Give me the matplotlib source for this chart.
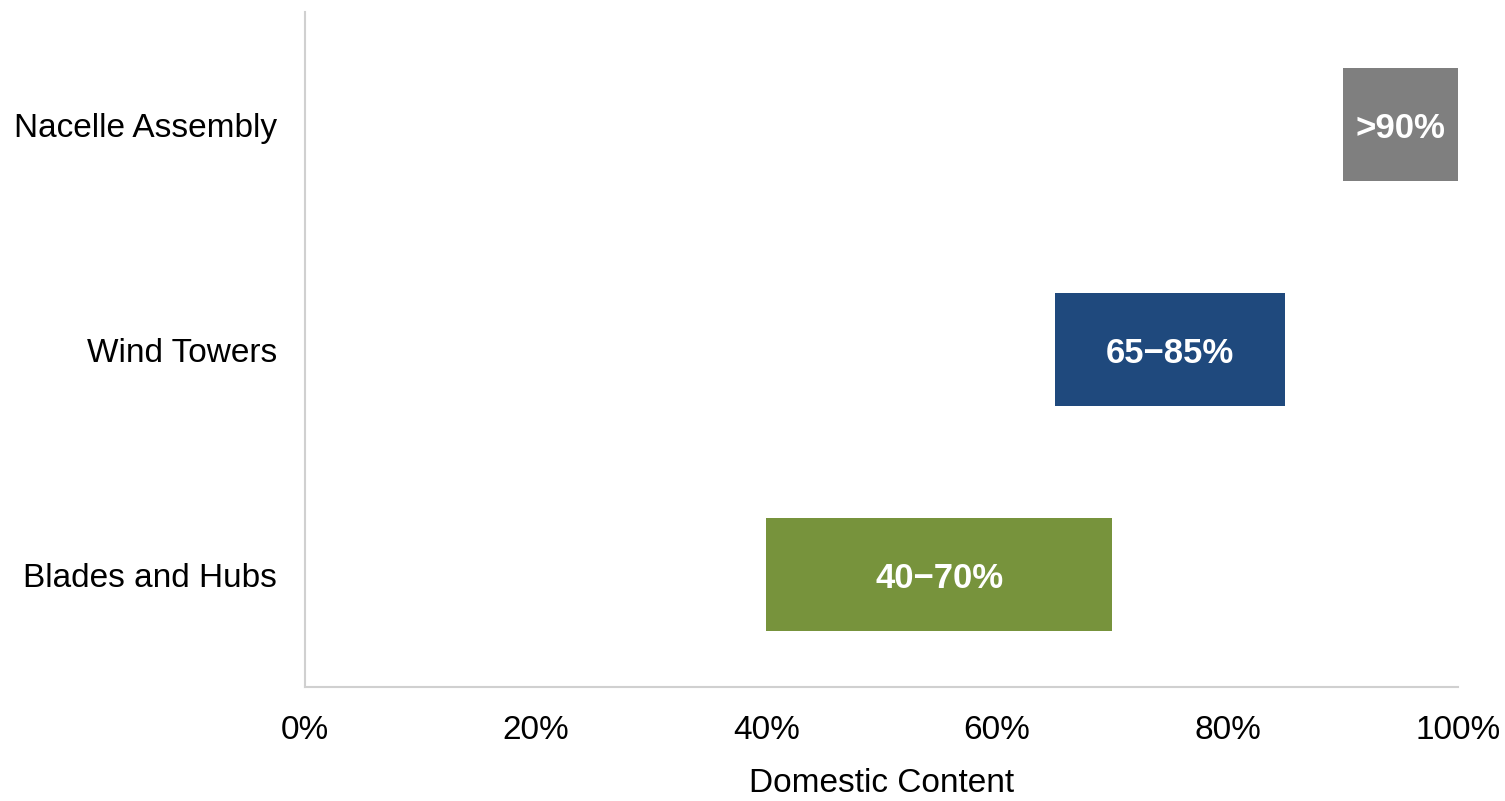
import matplotlib
matplotlib.use('Agg')
from matplotlib import pyplot as plt
from matplotlib.ticker import FuncFormatter

plt.rcParams['font.family'] = ['Liberation Sans', 'DejaVu Sans']

# data
categories = ['Blades and Hubs', 'Wind Towers', 'Nacelle Assembly']
lowValues = [40, 65, 90]
highValues = [70, 85, 100]
barLabels = ['40\u221270%', '65\u221285%', '>90%']
colors = ['#77933c', '#1f497d', '#7f7f7f']
xTicks = [0, 20, 40, 60, 80, 100]

fig = plt.figure(figsize=(15.05, 8.01), dpi=100)
ax = fig.add_axes([0.2027, 0.1423, 0.7661, 0.8427])

ypos = list(range(len(categories)))
widths = [h - l for l, h in zip(lowValues, highValues)]
ax.barh(ypos, widths, left=lowValues, height=0.5, color=colors)

for y, l, w, txt in zip(ypos, lowValues, widths, barLabels):
    ax.text(l + w / 2, y, txt, ha='center', va='center_baseline', color='white',
            fontsize=25, fontweight='bold')

ax.set_xlim(0, 100)
ax.set_ylim(-0.5, 2.5)
ax.set_xticks(xTicks)
ax.xaxis.set_major_formatter(FuncFormatter(lambda v, p: '%d%%' % v))
ax.set_yticks(ypos)
ax.set_yticklabels(categories)
ax.tick_params(axis='both', length=0, labelsize=24, pad=20)
ax.set_xlabel('Domestic Content', fontsize=24, labelpad=16)

for s in ['top', 'right']:
    ax.spines[s].set_visible(False)
for s in ['left', 'bottom']:
    ax.spines[s].set_color('#d0d0d0')
    ax.spines[s].set_linewidth(1.5)

fig.savefig('out.png', dpi=100)
